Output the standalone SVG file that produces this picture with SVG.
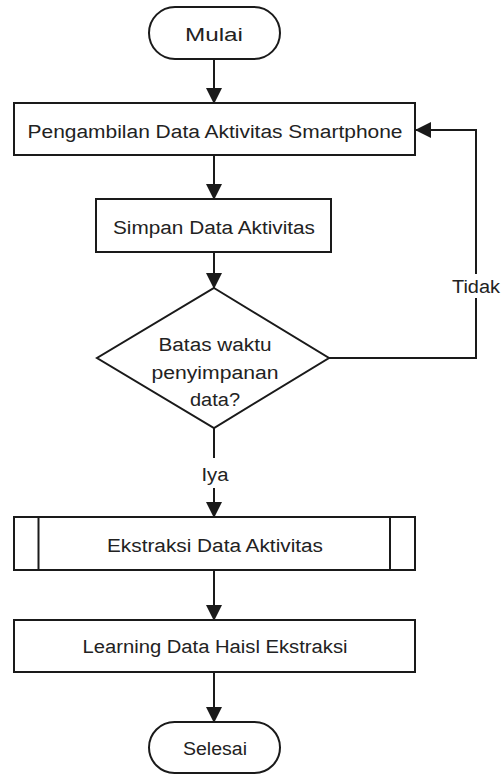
<svg xmlns="http://www.w3.org/2000/svg" width="504" height="774" viewBox="0 0 504 774">
<style>
.s{fill:#fff;stroke:#1a1a1a;stroke-width:2}
.t{font-family:"Liberation Sans",Arial,sans-serif;font-size:18px;fill:#222;text-anchor:middle}
.c{fill:none;stroke:#1a1a1a;stroke-width:2}
</style>
<defs>
<marker id="a" markerUnits="userSpaceOnUse" markerWidth="16" markerHeight="16" viewBox="0 0 16 16" refX="15" refY="8" orient="auto">
<path d="M0,0 L16,8 L0,16 Z" fill="#1a1a1a"/>
</marker>
</defs>
<g id="connectors">
<line class="c" x1="214" y1="59" x2="214" y2="103" marker-end="url(#a)"/>
<line class="c" x1="214" y1="155" x2="214" y2="199" marker-end="url(#a)"/>
<line class="c" x1="214" y1="252" x2="214" y2="288" marker-end="url(#a)"/>
<polyline class="c" points="329,358 476,358 476,130 416,130" marker-end="url(#a)"/>
<line class="c" x1="214" y1="428" x2="214" y2="458"/>
<line class="c" x1="214" y1="488" x2="214" y2="517" marker-end="url(#a)"/>
<line class="c" x1="214" y1="570" x2="214" y2="620" marker-end="url(#a)"/>
<line class="c" x1="214" y1="672" x2="214" y2="722" marker-end="url(#a)"/>
<rect x="450" y="274" width="52" height="24" fill="#fff"/>
<text class="t" x="476" y="293" textLength="48" lengthAdjust="spacingAndGlyphs">Tidak</text>
<text class="t" x="215" y="481" textLength="27" lengthAdjust="spacingAndGlyphs">Iya</text>
</g>
<g id="mulai">
<rect class="s" x="149" y="7" width="131" height="52" rx="26"/>
<text class="t" x="214" y="41" textLength="58" lengthAdjust="spacingAndGlyphs">Mulai</text>
</g>
<g id="pengambilan">
<rect class="s" x="14" y="103" width="401" height="52"/>
<text class="t" x="215" y="138" textLength="375" lengthAdjust="spacingAndGlyphs">Pengambilan Data Aktivitas Smartphone</text>
</g>
<g id="simpan">
<rect class="s" x="96" y="199" width="235" height="53"/>
<text class="t" x="214" y="234" textLength="202" lengthAdjust="spacingAndGlyphs">Simpan Data Aktivitas</text>
</g>
<g id="batas">
<polygon class="s" points="214,288 329,358 214,428 97,358"/>
<text class="t" x="215" y="351" textLength="113" lengthAdjust="spacingAndGlyphs">Batas waktu</text>
<text class="t" x="215" y="379" textLength="127" lengthAdjust="spacingAndGlyphs">penyimpanan</text>
<text class="t" x="215" y="406" textLength="50" lengthAdjust="spacingAndGlyphs">data?</text>
</g>
<g id="ekstraksi">
<rect class="s" x="14" y="517" width="401" height="53"/>
<line class="c" x1="38.5" y1="517" x2="38.5" y2="570"/>
<line class="c" x1="390" y1="517" x2="390" y2="570"/>
<text class="t" x="215" y="552" textLength="216" lengthAdjust="spacingAndGlyphs">Ekstraksi Data Aktivitas</text>
</g>
<g id="learning">
<rect class="s" x="14" y="620" width="401" height="52"/>
<text class="t" x="215" y="653" textLength="265" lengthAdjust="spacingAndGlyphs">Learning Data Haisl Ekstraksi</text>
</g>
<g id="selesai">
<rect class="s" x="149" y="722" width="131" height="51" rx="25.5"/>
<text class="t" x="215" y="755" textLength="64" lengthAdjust="spacingAndGlyphs">Selesai</text>
</g>
</svg>
